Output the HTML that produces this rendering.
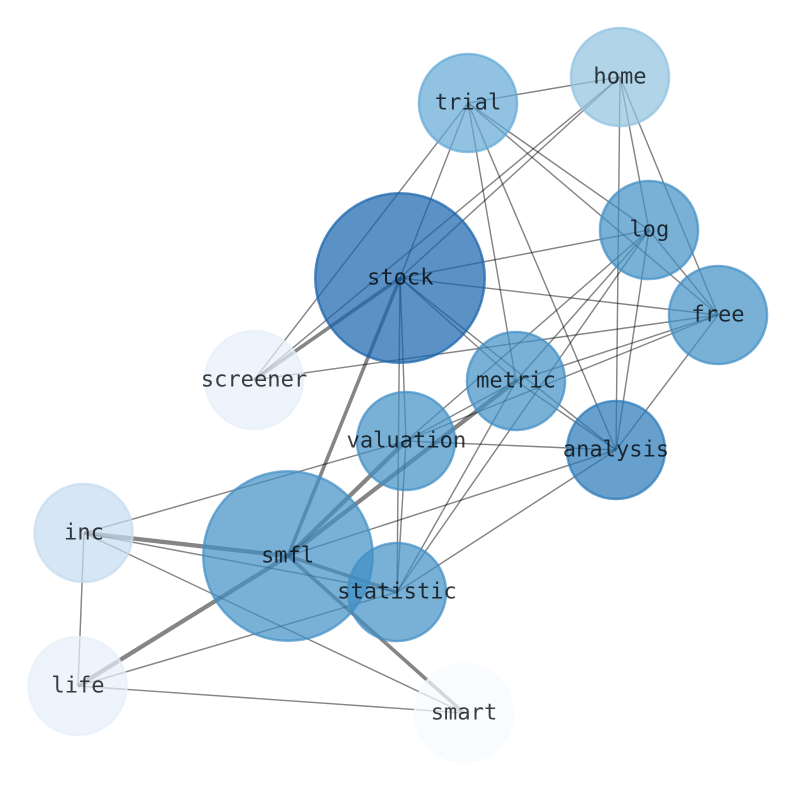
<!DOCTYPE html>
<html>
<head>
<meta charset="utf-8">
<style>
html,body{margin:0;padding:0;background:#fff;width:794px;height:790px;overflow:hidden}
svg{display:block}
text{font-family:"DejaVu Sans Mono","Liberation Mono",monospace;font-size:22.1px;fill:#000;fill-opacity:.76;text-anchor:middle}
.e line{stroke:#000;stroke-opacity:.48;stroke-width:1.45}
.t line{stroke:#000;stroke-opacity:.48;stroke-width:4.3}
.m line{stroke:#000;stroke-opacity:.48;stroke-width:3.6}
circle{stroke-width:2.4;fill-opacity:.7;stroke-opacity:.7}
</style>
</head>
<body>
<svg width="794" height="790" viewBox="0 0 794 790" xmlns="http://www.w3.org/2000/svg">
<g class="e">
<line x1="468" y1="103" x2="620" y2="77"/>
<line x1="468" y1="103" x2="649" y2="230"/>
<line x1="468" y1="103" x2="718" y2="315"/>
<line x1="468" y1="103" x2="400" y2="278"/>
<line x1="468" y1="103" x2="254" y2="380"/>
<line x1="468" y1="103" x2="516" y2="381"/>
<line x1="468" y1="103" x2="616" y2="450"/>
<line x1="620" y1="77" x2="400" y2="278"/>
<line x1="620" y1="77" x2="254" y2="380"/>
<line x1="620" y1="77" x2="649" y2="230"/>
<line x1="620" y1="77" x2="718" y2="315"/>
<line x1="620" y1="77" x2="616" y2="450"/>
<line x1="649" y1="230" x2="400" y2="278"/>
<line x1="649" y1="230" x2="718" y2="315"/>
<line x1="649" y1="230" x2="516" y2="381"/>
<line x1="649" y1="230" x2="406" y2="441"/>
<line x1="649" y1="230" x2="397" y2="592"/>
<line x1="649" y1="230" x2="616" y2="450"/>
<line x1="718" y1="315" x2="400" y2="278"/>
<line x1="718" y1="315" x2="254" y2="380"/>
<line x1="718" y1="315" x2="516" y2="381"/>
<line x1="718" y1="315" x2="406" y2="441"/>
<line x1="718" y1="315" x2="616" y2="450"/>
<line x1="400" y1="278" x2="406" y2="441"/>
<line x1="400" y1="278" x2="397" y2="592"/>
<line x1="400" y1="278" x2="516" y2="381"/>
<line x1="400" y1="278" x2="616" y2="450"/>
<line x1="516" y1="381" x2="616" y2="450"/>
<line x1="516" y1="381" x2="397" y2="592"/>
<line x1="516" y1="381" x2="406" y2="441"/>
<line x1="406" y1="441" x2="616" y2="450"/>
<line x1="406" y1="441" x2="397" y2="592"/>
<line x1="406" y1="441" x2="84" y2="533"/>
<line x1="616" y1="450" x2="288" y2="556"/>
<line x1="616" y1="450" x2="397" y2="592"/>
<line x1="84" y1="533" x2="397" y2="592"/>
<line x1="84" y1="533" x2="464" y2="713"/>
<line x1="84" y1="533" x2="78" y2="686"/>
<line x1="78" y1="686" x2="397" y2="592"/>
<line x1="78" y1="686" x2="464" y2="713"/>
</g>
<g class="m">
<line x1="400" y1="278" x2="288" y2="556"/>
<line x1="400" y1="278" x2="254" y2="380"/>
<line x1="288" y1="556" x2="397" y2="592"/>
<line x1="288" y1="556" x2="464" y2="713"/>
</g>
<g class="t">
<line x1="288" y1="556" x2="406" y2="441"/>
<line x1="288" y1="556" x2="516" y2="381"/>
<line x1="288" y1="556" x2="84" y2="533"/>
<line x1="288" y1="556" x2="78" y2="686"/>
</g>
<circle cx="468" cy="103" r="49.1" fill="#62a8d5" stroke="#62a8d5"/>
<circle cx="620" cy="77" r="49.1" fill="#90c2df" stroke="#90c2df"/>
<circle cx="649" cy="230" r="49.1" fill="#408fc5" stroke="#408fc5"/>
<circle cx="718" cy="315" r="49.1" fill="#408fc5" stroke="#408fc5"/>
<circle cx="400" cy="278" r="84.8" fill="#1562ab" stroke="#1562ab"/>
<circle cx="254" cy="380" r="49.1" fill="#e6f0fa" stroke="#e6f0fa"/>
<circle cx="516" cy="381" r="49.1" fill="#408fc5" stroke="#408fc5"/>
<circle cx="406" cy="441" r="49.1" fill="#408fc5" stroke="#408fc5"/>
<circle cx="616" cy="450" r="49.1" fill="#2878b8" stroke="#2878b8"/>
<circle cx="83.6" cy="533" r="49.1" fill="#c4dbef" stroke="#c4dbef"/>
<circle cx="288" cy="556" r="84.8" fill="#408fc5" stroke="#408fc5"/>
<circle cx="397" cy="592" r="49.1" fill="#408fc5" stroke="#408fc5"/>
<circle cx="77.6" cy="686" r="49.1" fill="#e6f0fa" stroke="#e6f0fa"/>
<circle cx="464" cy="713" r="49.1" fill="#f7fbff" stroke="#f7fbff"/>
<text x="468" y="109.7">trial</text>
<text x="620" y="83.7">home</text>
<text x="649.3" y="236.7">log</text>
<text x="718" y="321.7">free</text>
<text x="400.3" y="284.7">stock</text>
<text x="254" y="386.7">screener</text>
<text x="516" y="387.7">metric</text>
<text x="406.4" y="447.7">valuation</text>
<text x="616" y="456.7">analysis</text>
<text x="84" y="539.7">inc</text>
<text x="287.6" y="562.7">smfl</text>
<text x="397" y="598.7">statistic</text>
<text x="78" y="692.7">life</text>
<text x="464" y="719.7">smart</text>
</svg>
</body>
</html>
